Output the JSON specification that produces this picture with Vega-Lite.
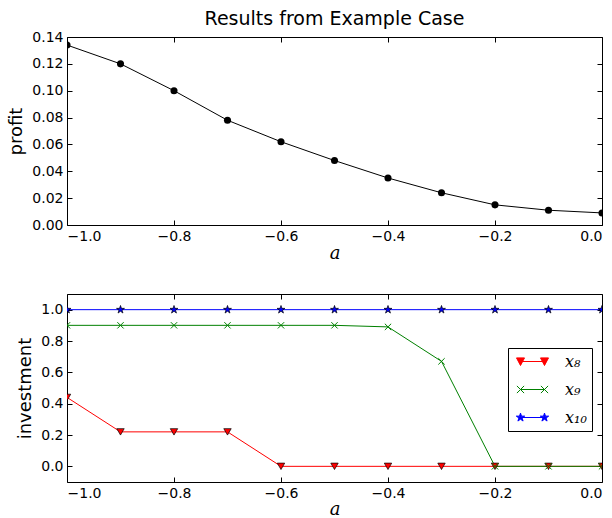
{
  "$schema": "https://vega.github.io/schema/vega-lite/v6.json",
  "padding": {"left": 7, "top": 9, "right": 0, "bottom": 0},
  "spacing": 30,
  "config": {
    "view": {"stroke": "black", "strokeWidth": 1},
    "axis": {
      "grid": false, "domain": false, "tickSize": -5, "tickColor": "black",
      "labelColor": "black", "labelFont": "DejaVu Sans", "labelFontSize": 14,
      "titleFont": "DejaVu Sans", "titleFontSize": 18, "titleFontWeight": "normal",
      "titleColor": "black", "labelPadding": 9
    }
  },
  "datasets": {
    "profit": [
      {"a": -1.0, "profit": 0.134}, {"a": -0.9, "profit": 0.120}, {"a": -0.8, "profit": 0.100},
      {"a": -0.7, "profit": 0.078}, {"a": -0.6, "profit": 0.062}, {"a": -0.5, "profit": 0.048},
      {"a": -0.4, "profit": 0.035}, {"a": -0.3, "profit": 0.024}, {"a": -0.2, "profit": 0.015},
      {"a": -0.1, "profit": 0.011}, {"a": 0.0, "profit": 0.009}
    ],
    "inv": [
      {"a": -1.0, "series": "x8", "value": 0.44}, {"a": -0.9, "series": "x8", "value": 0.22},
      {"a": -0.8, "series": "x8", "value": 0.22}, {"a": -0.7, "series": "x8", "value": 0.22},
      {"a": -0.6, "series": "x8", "value": 0.0}, {"a": -0.5, "series": "x8", "value": 0.0},
      {"a": -0.4, "series": "x8", "value": 0.0}, {"a": -0.3, "series": "x8", "value": 0.0},
      {"a": -0.2, "series": "x8", "value": 0.0}, {"a": -0.1, "series": "x8", "value": 0.0},
      {"a": 0.0, "series": "x8", "value": 0.0},
      {"a": -1.0, "series": "x9", "value": 0.9}, {"a": -0.9, "series": "x9", "value": 0.9},
      {"a": -0.8, "series": "x9", "value": 0.9}, {"a": -0.7, "series": "x9", "value": 0.9},
      {"a": -0.6, "series": "x9", "value": 0.9}, {"a": -0.5, "series": "x9", "value": 0.9},
      {"a": -0.4, "series": "x9", "value": 0.89}, {"a": -0.3, "series": "x9", "value": 0.67},
      {"a": -0.2, "series": "x9", "value": 0.0}, {"a": -0.1, "series": "x9", "value": 0.0},
      {"a": 0.0, "series": "x9", "value": 0.0},
      {"a": -1.0, "series": "x10", "value": 1.0}, {"a": -0.9, "series": "x10", "value": 1.0},
      {"a": -0.8, "series": "x10", "value": 1.0}, {"a": -0.7, "series": "x10", "value": 1.0},
      {"a": -0.6, "series": "x10", "value": 1.0}, {"a": -0.5, "series": "x10", "value": 1.0},
      {"a": -0.4, "series": "x10", "value": 1.0}, {"a": -0.3, "series": "x10", "value": 1.0},
      {"a": -0.2, "series": "x10", "value": 1.0}, {"a": -0.1, "series": "x10", "value": 1.0},
      {"a": 0.0, "series": "x10", "value": 1.0}
    ]
  },
  "vconcat": [
    {
      "title": {"text": "Results from Example Case", "fontSize": 19, "font": "DejaVu Sans", "fontWeight": "normal", "color": "black", "offset": 1},
      "width": 535,
      "height": 188,
      "data": {"name": "profit"},
      "layer": [
        {
          "mark": {"type": "line", "color": "black", "strokeWidth": 1, "clip": true},
          "encoding": {
            "x": {"field": "a", "type": "quantitative", "scale": {"domain": [-1, 0], "nice": false, "zero": false},
                  "axis": {"orient": "bottom", "values": [-1, -0.8, -0.6, -0.4, -0.2, 0], "format": ".1f", "title": "a",
                           "titleFont": "DejaVu Serif", "titleFontStyle": "italic", "titleFontSize": 18, "titlePadding": 1}},
            "y": {"field": "profit", "type": "quantitative", "scale": {"domain": [0, 0.14], "nice": false},
                  "axis": {"orient": "left", "values": [0, 0.02, 0.04, 0.06, 0.08, 0.1, 0.12, 0.14], "format": ".2f", "title": "profit", "titlePadding": 6}}
          }
        },
        {
          "mark": {"type": "point", "filled": true, "color": "black", "size": 50, "opacity": 1, "clip": true},
          "encoding": {
            "x": {"field": "a", "type": "quantitative", "axis": null},
            "y": {"field": "profit", "type": "quantitative", "axis": null}
          }
        },
        {
          "mark": {"type": "point", "opacity": 0},
          "encoding": {
            "x": {"field": "a", "type": "quantitative",
                  "axis": {"orient": "top", "values": [-1, -0.8, -0.6, -0.4, -0.2, 0], "labels": false, "title": null}},
            "y": {"field": "profit", "type": "quantitative",
                  "axis": {"orient": "right", "values": [0, 0.02, 0.04, 0.06, 0.08, 0.1, 0.12, 0.14], "labels": false, "title": null}}
          }
        }
      ],
      "resolve": {"axis": {"x": "independent", "y": "independent"}}
    },
    {
      "width": 535,
      "height": 188,
      "data": {"name": "inv"},
      "layer": [
        {
          "mark": {"type": "line", "strokeWidth": 1, "clip": true},
          "encoding": {
            "x": {"field": "a", "type": "quantitative", "scale": {"domain": [-1, 0], "nice": false, "zero": false},
                  "axis": {"orient": "bottom", "values": [-1, -0.8, -0.6, -0.4, -0.2, 0], "format": ".1f", "title": "a",
                           "titleFont": "DejaVu Serif", "titleFontStyle": "italic", "titleFontSize": 18, "titlePadding": 0}},
            "y": {"field": "value", "type": "quantitative", "scale": {"domain": [-0.1, 1.1], "nice": false, "zero": false},
                  "axis": {"orient": "left", "values": [0, 0.2, 0.4, 0.6, 0.8, 1.0], "format": ".1f", "title": "investment", "titlePadding": 6}},
            "color": {"field": "series", "type": "nominal",
                      "scale": {"domain": ["x8", "x9", "x10"], "range": ["#ff0000", "#008000", "#0000ff"]},
                      "legend": {
                        "orient": "none", "legendX": 441, "legendY": 311, "title": null,
                        "strokeColor": "black", "fillColor": "white", "padding": 5, "cornerRadius": 0,
                        "labelFont": "DejaVu Serif", "labelFontStyle": "italic", "labelFontSize": 16, "labelColor": "black",
                        "labelExpr": "datum.value == 'x8' ? 'x₈' : datum.value == 'x9' ? 'x₉' : 'x₁₀'",
                        "symbolSize": 256, "symbolStrokeWidth": 1, "rowPadding": 11, "labelOffset": 35,
                        "encode": {
                          "symbols": {
                            "update": {
                              "shape": {"signal": "datum.value == 'x8' ? 'M-0.125,0L2.875,0M-0.625,-0.45L0.375,-0.45L-0.125,0.5ZM2.375,-0.45L3.375,-0.45L2.875,0.5Z' : datum.value == 'x9' ? 'M-0.125,0L2.875,0M-0.575,-0.45L0.325,0.45M-0.575,0.45L0.325,-0.45M2.425,-0.45L3.325,0.45M2.425,0.45L3.325,-0.45' : 'M-0.125,0L2.875,0M-0.125,-0.55L-0.001,-0.17L0.398,-0.17L0.075,0.065L0.198,0.445L-0.125,0.21L-0.448,0.445L-0.325,0.065L-0.648,-0.17L-0.249,-0.17ZM2.875,-0.55L2.999,-0.17L3.398,-0.17L3.075,0.065L3.198,0.445L2.875,0.21L2.552,0.445L2.675,0.065L2.352,-0.17L2.751,-0.17Z'"},
                              "fill": {"signal": "datum.value == 'x8' ? '#ff0000' : datum.value == 'x9' ? 'transparent' : '#0000ff'"},
                              "stroke": {"signal": "datum.value == 'x8' ? '#ff0000' : datum.value == 'x9' ? '#008000' : '#0000ff'"},
                              "size": {"value": 256},
                              "strokeWidth": {"value": 1},
                              "opacity": {"value": 1}
                            }
                          }
                        }
                      }}
          }
        },
        {
          "transform": [{"filter": "datum.series == 'x8'"}],
          "mark": {"type": "point", "shape": "triangle-down", "filled": true, "fill": "#ff0000", "stroke": "black", "strokeWidth": 0.7, "size": 55, "opacity": 1, "clip": true},
          "encoding": {
            "x": {"field": "a", "type": "quantitative", "axis": null},
            "y": {"field": "value", "type": "quantitative", "axis": null}
          }
        },
        {
          "transform": [{"filter": "datum.series == 'x9'"}],
          "mark": {"type": "point", "shape": "M-1,-1L1,1M-1,1L1,-1", "filled": false, "stroke": "#008000", "strokeWidth": 1, "size": 40, "opacity": 1, "clip": true},
          "encoding": {
            "x": {"field": "a", "type": "quantitative", "axis": null},
            "y": {"field": "value", "type": "quantitative", "axis": null}
          }
        },
        {
          "transform": [{"filter": "datum.series == 'x10'"}],
          "mark": {"type": "point", "shape": "M0,-1L0.225,-0.309L0.951,-0.309L0.363,0.118L0.588,0.809L0,0.382L-0.588,0.809L-0.363,0.118L-0.951,-0.309L-0.225,-0.309Z", "filled": true, "fill": "#0000ff", "stroke": "black", "strokeWidth": 0.7, "size": 70, "opacity": 1, "clip": true},
          "encoding": {
            "x": {"field": "a", "type": "quantitative", "axis": null},
            "y": {"field": "value", "type": "quantitative", "axis": null}
          }
        },
        {
          "mark": {"type": "point", "opacity": 0},
          "encoding": {
            "x": {"field": "a", "type": "quantitative",
                  "axis": {"orient": "top", "values": [-1, -0.8, -0.6, -0.4, -0.2, 0], "labels": false, "title": null}},
            "y": {"field": "value", "type": "quantitative",
                  "axis": {"orient": "right", "values": [0, 0.2, 0.4, 0.6, 0.8, 1.0], "labels": false, "title": null}}
          }
        }
      ],
      "resolve": {"axis": {"x": "independent", "y": "independent"}}
    }
  ]
}
